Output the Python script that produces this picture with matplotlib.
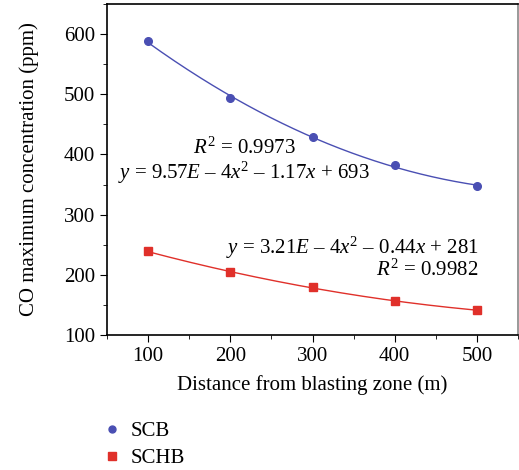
import numpy as np
import matplotlib.pyplot as plt
from matplotlib.ticker import MultipleLocator
from matplotlib.lines import Line2D

# distances (m) and CO peak concentrations (ppm)
distance = [100, 200, 300, 400, 500]
scb = [588, 493, 429, 383, 347]
schb = [239, 204, 179, 157, 141]

blue = '#4a4fb3'
red = '#e0302a'
fs = 15

plt.rcParams['font.family'] = ['Liberation Serif', 'DejaVu Serif']
plt.rcParams['mathtext.fontset'] = 'custom'
plt.rcParams['mathtext.it'] = 'Liberation Serif:italic'
plt.rcParams['mathtext.rm'] = 'Liberation Serif'

fig = plt.figure(figsize=(5.19, 4.70), dpi=100)
ax = fig.add_axes([107/519, 1-335/470, 411/519, 331/470])

# quadratic trendlines fitted to the points
xs = np.linspace(100, 500, 200)
for vals, col, mk in [(scb, blue, 'o'), (schb, red, 's')]:
    c = np.polyfit(distance, vals, 2)
    ax.plot(xs, np.polyval(c, xs), color=col, lw=1)
    ax.plot(distance, vals, mk, color=col, ms=5.5 if mk == 'o' else 6, ls='none')

ax.set_xlim(50, 550)
ax.set_ylim(100, 650)
ax.set_xticks([100, 200, 300, 400, 500])
ax.set_yticks([100, 200, 300, 400, 500, 600])
ax.xaxis.set_minor_locator(MultipleLocator(50))
ax.yaxis.set_minor_locator(MultipleLocator(50))
ax.tick_params(which='major', direction='out', length=5, labelsize=fs)
ax.tick_params(which='minor', direction='out', length=3)
for s in ax.spines.values():
    s.set_linewidth(1.2)
ax.spines['right'].set_color('#888888')

ax.set_xlabel('Distance from blasting zone (m)', fontsize=fs, labelpad=7)
ax.set_ylabel('CO maximum concentration (ppm)', fontsize=fs, labelpad=18)

ax.text(217, 410, r'$R^2$ = 0.9973', fontsize=fs, ha='center', va='center')
ax.text(217, 370, r'$y$ = 9.57$E$ – 4$x^2$ – 1.17$x$ + 693', fontsize=fs,
        ha='center', va='center')
ax.text(502, 244, r'$y$ = 3.21$E$ – 4$x^2$ – 0.44$x$ + 281', fontsize=fs,
        ha='right', va='center')
ax.text(502, 207, r'$R^2$ = 0.9982', fontsize=fs, ha='right', va='center')

handles = [Line2D([], [], marker='o', color=blue, ls='none', ms=5),
           Line2D([], [], marker='s', color=red, ls='none', ms=5.5)]
fig.legend(handles, ['SCB', 'SCHB'], loc='upper left',
           bbox_to_anchor=(85/519, 1-407/470), frameon=False, fontsize=fs,
           handletextpad=0.3, labelspacing=0.35, handlelength=1.2,
           borderpad=0.2)

fig.savefig('out.png', dpi=100)
